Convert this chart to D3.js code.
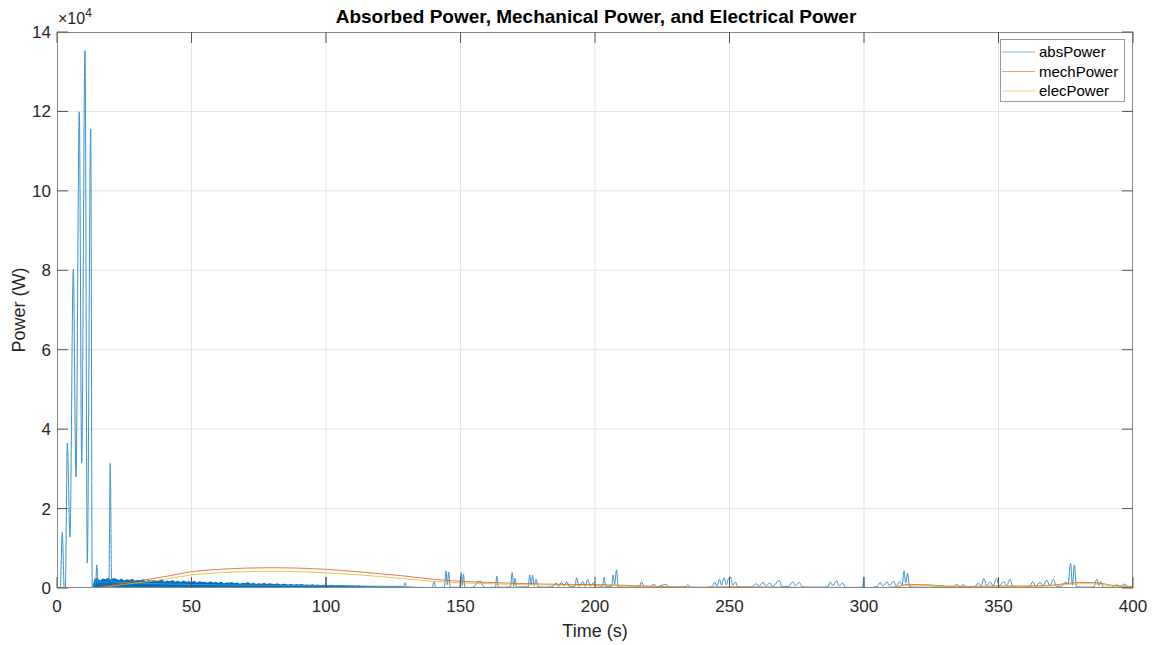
<!DOCTYPE html>
<html>
<head>
<meta charset="utf-8">
<script src="https://cdn.jsdelivr.net/npm/d3@7"></script>
<style>
  html, body { margin: 0; padding: 0; background: #fff; }
  svg text { font-family: "Liberation Sans", Arial, Helvetica, sans-serif; }
</style>
</head>
<body>
<svg id="chart" width="1160" height="645"></svg>
<script>
// Absorbed power: transient spikes, later sea-state bumps (time s, power W)
const absTime = [0,1.2,1.97,2.7,3.1,3.83,4.83,6.06,7.06,8.29,9.18,10.41,11.26,12.53,13.1,
  14.4,14.8,15.2,19.3,19.8,20.3,60,99.8,100,100.2,129,129.4,129.8,
  137,139.5,140.2,140.8,144,144.6,145.1,145.6,146.2,149.7,150.2,150.7,151.1,151.6,153,155,156.5,157.5,158.5,160,
  163,163.5,164.1,166,168.6,169.2,169.8,170.2,170.8,173,175.2,175.7,176.3,176.8,177.4,178.1,178.8,181,184,
  185.5,186.5,187.5,188.5,189.5,190.5,192.5,193.2,194,195.5,196.3,197.3,198.3,199.5,200.5,202.8,203.4,204,
  206.2,206.7,207.3,208,208.6,211,214,216.5,217.3,218.2,220,222,223,225,226.5,227.5,230,233.5,234.5,235.5,240,
  243.5,244.5,245.3,246.3,247,248,248.8,249.6,250.4,251.2,252.2,253,256,258.5,260,261,262.5,263.5,265,266,
  268.5,269.5,272,273.5,274.5,276,277,280,284,286.5,287.5,288.5,289.8,290.8,292,293,296,299.5,299.9,300.1,302,
  305,306,307,308.5,309.5,311,312,313.2,314.2,314.9,315.5,316.2,316.9,320,324,328,329,330,333,334.5,335.5,337,338,
  341,342.5,343.5,344.6,345.5,347,348,349.3,350.2,352,353,354.3,355.3,358,361.5,362.8,363.8,365.5,366.5,368,369,
  370.5,371.5,373,375,375.8,376.8,377.5,378.2,379,382,385.5,386.5,387.3,388,389,392,394,395,397,398,400];
const absPower = [0,0,14000,0,0,36500,12800,80300,28000,119900,31500,135300,6300,115600,0,
  1500,5800,1500,1500,31400,1500,800,600,2800,600,400,1300,300,
  150,150,1600,150,200,4300,800,4000,200,200,3900,600,3500,200,100,300,1600,1700,300,150,
  200,3000,200,200,300,3900,400,2500,200,300,300,3300,800,3200,600,2200,300,200,300,
  1200,400,1400,500,1500,300,400,2600,400,1600,400,2100,500,1400,200,300,2700,300,
  400,3300,900,4600,300,200,250,400,1600,300,200,900,300,700,900,200,150,300,800,150,100,
  300,1500,500,2200,700,2600,800,2400,2800,700,1500,300,200,300,1100,400,1500,500,1300,400,
  1900,300,400,1600,600,1400,300,200,200,300,1500,600,1800,500,1300,200,150,200,2800,0,100,
  400,1400,500,1500,600,1700,500,1600,800,4300,1200,3700,300,200,200,300,700,200,300,900,300,800,200,
  300,1200,500,2400,600,1500,500,2400,500,1600,600,2200,300,200,300,1600,500,1400,500,2000,600,
  2200,300,300,1500,800,6200,700,5800,300,200,300,2200,600,1600,200,200,800,200,1000,300,200];

// Dense high-frequency part of absPower, drawn as its oscillation envelope
const bandTime = d3.range(13, 138);
const bandPeak = [0,2300,2500,1900,2400,2200,2600,2100,2500,2300,2000,2400,1900,2200,2000,2300,1800,2100,1900,2200,
  1700,2000,1800,2100,1700,1900,2200,1600,1900,1700,2000,1600,1800,1500,1900,1600,1700,1500,1800,1400,
  1700,1500,1600,1300,1700,1400,1500,1300,1600,1200,1400,1300,1500,1200,1400,1100,1300,1200,1500,1100,
  1300,1000,1200,1100,1300,1000,1200,1100,1000,1200,900,1100,1000,900,1100,800,1000,900,1000,800,
  900,800,950,750,850,700,800,750,700,800,650,750,600,700,600,650,550,650,500,600,
  500,550,450,500,450,500,400,450,400,450,350,400,350,400,300,350,320,300,250,300,
  250,250,200,200,150];

// Mechanical and electrical power (W)
const mechTime = [0,13,16,20,25,30,36,42,50,60,70,80,90,100,110,120,128,140,150,160,170,180,190,200,210,220,230,240,
  250,260,270,280,290,300,305,312,316,324,330,340,350,360,370,376,382,388,392,400];
const mechPower = [0,0,200,700,1300,1800,2400,3100,4100,4700,5000,5100,5000,4700,4200,3600,3100,2200,1700,1400,1200,
  1000,900,850,700,450,300,200,300,250,200,150,150,100,100,300,900,800,500,400,500,500,700,1200,1400,1200,700,400];
const elecPower = [0,0,100,400,900,1300,1800,2400,3300,3800,4100,4200,4100,3800,3400,2900,2400,1700,1300,1100,900,
  800,700,650,550,350,250,150,250,200,150,100,100,80,80,200,700,650,400,300,400,400,550,900,1100,950,550,300];

const xTicks = [0,50,100,150,200,250,300,350,400];
const yTicks = [0,20000,40000,60000,80000,100000,120000,140000];
const seriesNames = ["absPower","mechPower","elecPower"];
const seriesColors = ["#0072BD","#D95319","#EDB120"];

const svg = d3.select("#chart");
const L = 57, R = 1133, T = 32, B = 588;
const x = d3.scaleLinear().domain([0,400]).range([L,R]);
const y = d3.scaleLinear().domain([0,140000]).range([B,T]);

const plot = svg.append("g");

// grid
plot.append("g").selectAll("line").data(xTicks.slice(1,-1)).join("line")
  .attr("x1",d=>x(d)).attr("x2",d=>x(d)).attr("y1",T).attr("y2",B)
  .attr("stroke","#e3e3e3").attr("stroke-width",1);
plot.append("g").selectAll("line").data(yTicks.slice(1,-1)).join("line")
  .attr("y1",d=>y(d)).attr("y2",d=>y(d)).attr("x1",L).attr("x2",R)
  .attr("stroke","#e3e3e3").attr("stroke-width",1);

svg.append("clipPath").attr("id","clip").append("rect")
  .attr("x",L).attr("y",T).attr("width",R-L).attr("height",B-T);
const marks = svg.append("g").attr("clip-path","url(#clip)");

// dense oscillation band of absPower
marks.append("path")
  .datum(bandTime.map((t,i)=>[t,bandPeak[i]]))
  .attr("d", d3.area().x(d=>x(d[0])).y0(y(0)).y1(d=>y(d[1])))
  .attr("fill","#0072BD");

marks.append("path")
  .datum(absTime.map((t,i)=>[t,absPower[i]]))
  .attr("d", d3.line().x(d=>x(d[0])).y(d=>y(d[1])).curve(d3.curveMonotoneX))
  .attr("fill","none").attr("stroke","#3a93cf").attr("stroke-width",1);

marks.append("path")
  .datum(mechTime.map((t,i)=>[t,mechPower[i]]))
  .attr("d", d3.line().x(d=>x(d[0])).y(d=>y(d[1])).curve(d3.curveMonotoneX))
  .attr("fill","none").attr("stroke",seriesColors[1]).attr("stroke-width",0.9).attr("opacity",0.85);

marks.append("path")
  .datum(mechTime.map((t,i)=>[t,elecPower[i]]))
  .attr("d", d3.line().x(d=>x(d[0])).y(d=>y(d[1])).curve(d3.curveMonotoneX))
  .attr("fill","none").attr("stroke",seriesColors[2]).attr("stroke-width",0.9).attr("opacity",0.85);

// axes box
const axisColor = "#8a8a8a";
svg.append("rect").attr("x",L+0.5).attr("y",T+0.5).attr("width",R-L-1).attr("height",B-T-1)
  .attr("fill","none").attr("stroke",axisColor).attr("stroke-width",1);

const tickLen = 11;
const ticks = svg.append("g").attr("stroke","#555").attr("stroke-width",1);
xTicks.forEach(d=>{
  ticks.append("line").attr("x1",x(d)).attr("x2",x(d)).attr("y1",B).attr("y2",B-tickLen);
  ticks.append("line").attr("x1",x(d)).attr("x2",x(d)).attr("y1",T).attr("y2",T+tickLen);
});
yTicks.forEach(d=>{
  ticks.append("line").attr("y1",y(d)).attr("y2",y(d)).attr("x1",L).attr("x2",L+tickLen);
  ticks.append("line").attr("y1",y(d)).attr("y2",y(d)).attr("x1",R).attr("x2",R-tickLen);
});

// tick labels
svg.append("g").selectAll("text").data(xTicks).join("text")
  .attr("x",d=>x(d)).attr("y",B+24).attr("text-anchor","middle")
  .attr("font-size",17).attr("fill","#262626").text(d=>d);
svg.append("g").selectAll("text").data(yTicks).join("text")
  .attr("x",L-6).attr("y",d=>y(d)+6).attr("text-anchor","end")
  .attr("font-size",17).attr("fill","#262626").text(d=>d/10000);

// exponent label
const ex = svg.append("text").attr("x",L+1).attr("y",24).attr("font-size",16).attr("fill","#262626");
ex.append("tspan").text("×10");
ex.append("tspan").attr("dy",-7).attr("font-size",12).text("4");

// titles
svg.append("text").attr("x",596).attr("y",23).attr("text-anchor","middle")
  .attr("font-size",19).attr("font-weight","bold").attr("fill","#000")
  .text("Absorbed Power, Mechanical Power, and Electrical Power");
svg.append("text").attr("x",(L+R)/2).attr("y",637).attr("text-anchor","middle")
  .attr("font-size",18).attr("fill","#262626").text("Time (s)");
svg.append("text").attr("transform",`translate(25,${(T+B)/2}) rotate(-90)`).attr("text-anchor","middle")
  .attr("font-size",18).attr("fill","#262626").text("Power (W)");

// legend
const lg = svg.append("g");
lg.append("rect").attr("x",1000.5).attr("y",39.5).attr("width",124).attr("height",62)
  .attr("fill","#fff").attr("stroke","#9a9a9a").attr("stroke-width",1);
const legendStroke = ["#7fb6dc","#e6a27f","#f0cf80"];
seriesNames.forEach((n,i)=>{
  const yy = 52 + i*19.5;
  lg.append("line").attr("x1",1002).attr("x2",1035).attr("y1",yy).attr("y2",yy)
    .attr("stroke",legendStroke[i]).attr("stroke-width",1.2);
  lg.append("text").attr("x",1039).attr("y",yy+5).attr("font-size",15).attr("fill","#000").text(n);
});
</script>
</body>
</html>
